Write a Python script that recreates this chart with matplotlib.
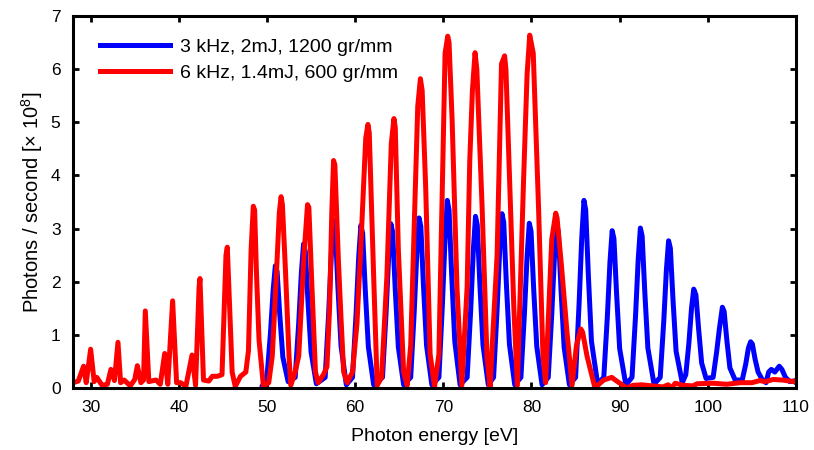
import matplotlib
matplotlib.use("Agg")
import matplotlib.pyplot as plt

plt.rcParams['font.family'] = ['Liberation Sans', 'DejaVu Sans']
plt.rcParams['mathtext.default'] = 'regular'

# red trace: 6 kHz, 1.4mJ, 600 gr/mm (vertices)
red_x = [28.0, 28.6, 29.2, 29.5, 30.0, 30.4, 30.7, 31.3, 31.9, 32.3, 32.7, 33.1, 33.4, 33.8,
         34.5, 35.0, 35.3, 35.7, 36.0, 36.2, 36.6, 37.4, 37.9, 38.4, 38.75, 39.3, 39.75, 40.2,
         40.8, 41.5, 41.9, 42.3, 42.4, 42.8, 43.4, 43.8, 44.35, 44.9, 45.35, 45.5, 46.05, 46.4,
         47.0, 47.6, 47.9, 48.2, 48.45, 48.6, 48.8, 49.1, 49.6,
         50.2, 50.6, 51.0, 51.4, 51.6, 51.75, 52.1, 52.5, 52.7,
         53.2, 53.6, 54.2, 54.6, 54.75, 55.1, 55.5, 55.8,
         56.4, 56.8, 57.1, 57.35, 57.55, 57.7, 58.1, 58.4, 58.7, 59.1,
         59.7, 60.2, 60.6, 61.2, 61.45, 61.6, 62.1, 62.5,
         63.0, 63.6, 64.1, 64.4, 64.55, 64.9, 65.5, 65.9,
         66.3, 66.6, 67.1, 67.4, 67.6, 68.0, 68.5, 69.0,
         69.5, 70.2, 70.5, 70.65, 71.0, 71.55, 72.1,
         72.7, 73.0, 73.3, 73.6, 73.8, 74.4, 74.95, 75.3,
         76.1, 76.6, 76.95, 77.1, 77.4, 78.0, 78.4,
         79.1, 79.5, 79.8, 80.2, 80.8, 81.3, 81.6,
         82.3, 82.75, 82.9, 83.4, 84.0, 84.6,
         85.1, 85.6, 85.8, 86.3, 87.2, 87.5, 88.2, 89.1, 89.5, 90.8, 91.5, 92.5,
         94.9, 95.5, 95.9, 96.3, 97.2, 98.3, 98.8, 100.6, 102.1, 103.7, 105.0, 105.9,
         106.5, 107.4, 108.5, 109.7, 110.0]
red_y = [0.10, 0.13, 0.41, 0.10, 0.73, 0.12, 0.20, 0.05, 0.07, 0.35, 0.14, 0.86, 0.10, 0.15,
         0.04, 0.16, 0.42, 0.10, 0.15, 1.45, 0.12, 0.15, 0.07, 0.65, 0.07, 1.64, 0.10, 0.10,
         0.03, 0.62, 0.05, 1.90, 2.06, 0.15, 0.13, 0.22, 0.22, 0.25, 2.50, 2.65, 0.30, 0.03,
         0.22, 0.30, 0.70, 2.60, 3.42, 3.35, 2.20, 0.90, 0.03,
         0.10, 0.60, 1.90, 3.30, 3.60, 3.45, 2.20, 0.60, 0.05,
         0.30, 0.60, 2.50, 3.45, 3.40, 1.90, 0.30, 0.10,
         0.25, 0.40, 1.50, 3.30, 4.28, 4.20, 2.40, 1.30, 0.30, 0.10,
         0.30, 1.20, 2.50, 4.70, 4.96, 4.80, 2.10, 0.05,
         0.20, 2.10, 4.60, 5.07, 4.90, 2.60, 0.30, 0.05,
         0.80, 2.50, 5.30, 5.82, 5.60, 3.78, 0.64, 0.02,
         0.64, 6.30, 6.62, 6.50, 5.04, 1.90, 0.05,
         1.90, 4.28, 5.60, 6.31, 6.00, 3.40, 0.60, 0.02,
         2.50, 6.10, 6.25, 6.00, 4.50, 1.50, 0.05,
         3.90, 5.90, 6.64, 6.30, 3.40, 0.60, 0.10,
         2.80, 3.29, 3.20, 2.30, 1.10, 0.05,
         0.80, 1.11, 1.05, 0.60, 0.00, 0.05, 0.15, 0.20, 0.15, 0.00, 0.05, 0.06,
         0.02, 0.06, 0.00, 0.09, 0.05, 0.04, 0.08, 0.09, 0.07, 0.10, 0.10, 0.14,
         0.12, 0.16, 0.15, 0.12, 0.15]

# blue trace: 3 kHz, 2mJ, 1200 gr/mm
blue_x = [49.5, 50.0, 50.4, 50.7, 50.95, 51.15, 51.45, 51.8, 52.4,
          53.2, 53.6, 53.9, 54.15, 54.35, 54.65, 55.0, 55.6,
          56.6, 57.0, 57.3, 57.55, 57.75, 58.05, 58.4, 59.0,
          59.7, 60.1, 60.4, 60.65, 60.85, 61.15, 61.5, 62.1,
          63.1, 63.5, 63.8, 64.05, 64.25, 64.55, 64.9, 65.5,
          66.3, 66.7, 67.0, 67.25, 67.45, 67.75, 68.1, 68.7,
          69.5, 69.9, 70.2, 70.45, 70.65, 70.95, 71.3, 71.9,
          72.7, 73.1, 73.4, 73.65, 73.85, 74.15, 74.5, 75.1,
          75.7, 76.1, 76.4, 76.65, 76.85, 77.15, 77.5, 78.1,
          78.8, 79.2, 79.5, 79.75, 79.95, 80.25, 80.6, 81.2,
          81.9, 82.3, 82.6, 82.85, 83.05, 83.35, 83.7, 84.3,
          85.0, 85.4, 85.7, 85.95, 86.15, 86.45, 86.8, 87.5,
          88.2, 88.6, 88.9, 89.15, 89.35, 89.65, 90.0, 90.7,
          91.4, 91.8, 92.1, 92.35, 92.55, 92.85, 93.2, 93.9,
          94.6, 95.0, 95.3, 95.55, 95.75, 96.05, 96.4, 97.1,
          97.5, 97.85, 98.15, 98.4, 98.65, 98.95, 99.3, 99.8,
          100.6, 101.0, 101.3, 101.65, 101.85, 102.15, 102.5, 103.1,
          103.9, 104.3, 104.6, 104.85, 105.05, 105.35, 105.7, 106.2,
          106.6, 106.9, 107.2, 107.6, 108.1, 108.4, 108.8, 109.3, 109.7, 110.0]
blue_y = [0.05, 0.20, 1.04, 1.84, 2.30, 2.19, 1.38, 0.58, 0.12,
          0.20, 1.22, 2.17, 2.71, 2.57, 1.63, 0.68, 0.08,
          0.20, 1.42, 2.52, 3.15, 2.99, 1.89, 0.79, 0.06,
          0.20, 1.38, 2.45, 3.06, 2.91, 1.84, 0.77, 0.06,
          0.20, 1.39, 2.47, 3.09, 2.94, 1.85, 0.77, 0.06,
          0.20, 1.44, 2.56, 3.20, 3.04, 1.92, 0.80, 0.06,
          0.20, 1.59, 2.82, 3.53, 3.35, 2.12, 0.88, 0.06,
          0.20, 1.45, 2.58, 3.23, 3.07, 1.94, 0.81, 0.06,
          0.20, 1.48, 2.62, 3.28, 3.12, 1.97, 0.82, 0.06,
          0.20, 1.40, 2.48, 3.10, 2.95, 1.86, 0.78, 0.06,
          0.20, 1.39, 2.46, 3.08, 2.93, 1.85, 0.77, 0.06,
          0.20, 1.59, 2.82, 3.53, 3.35, 2.12, 0.88, 0.08,
          0.20, 1.33, 2.37, 2.96, 2.81, 1.78, 0.74, 0.06,
          0.20, 1.35, 2.41, 3.01, 2.86, 1.81, 0.75, 0.07,
          0.20, 1.25, 2.22, 2.77, 2.63, 1.66, 0.69, 0.10,
          0.25, 0.84, 1.50, 1.86, 1.75, 1.12, 0.47, 0.18,
          0.20, 0.68, 1.10, 1.52, 1.44, 0.91, 0.38, 0.15,
          0.15, 0.45, 0.75, 0.87, 0.83, 0.55, 0.30, 0.15,
          0.10, 0.30, 0.35, 0.30, 0.41, 0.35, 0.20, 0.12, 0.13, 0.10]

labels = ['3 kHz, 2mJ, 1200 gr/mm', '6 kHz, 1.4mJ, 600 gr/mm']

fig = plt.figure(figsize=(8.14, 4.5), dpi=100)
ax = fig.add_axes([73/814, 62/450, 723/814, 372/450])

ax.plot(blue_x, blue_y, color='#0000ff', lw=3.6, label=labels[0], solid_joinstyle='round')
ax.plot(red_x, red_y, color='#ff0000', lw=3.6, label=labels[1], solid_joinstyle='round')

ax.set_xlim(28, 110)
ax.set_ylim(0, 7)
ax.set_xticks(range(30, 111, 10))
ax.set_yticks(range(0, 8))
ax.tick_params(direction='in', top=True, right=True, length=4.5, width=2,
               labelsize=12.5, pad=9)
for s in ax.spines.values():
    s.set_linewidth(2.2)

ax.set_xlabel('Photon energy [eV]', fontsize=14, labelpad=9)
ax.set_ylabel('Photons / second [× 10$^{8}$]', fontsize=14.5, labelpad=4)

ax.legend(loc='upper left', bbox_to_anchor=(0.038, 0.94), frameon=False,
          fontsize=14, handlelength=3.6, handletextpad=0.5, labelspacing=0.45,
          borderpad=0, borderaxespad=0)

fig.savefig('out.png', dpi=100)
